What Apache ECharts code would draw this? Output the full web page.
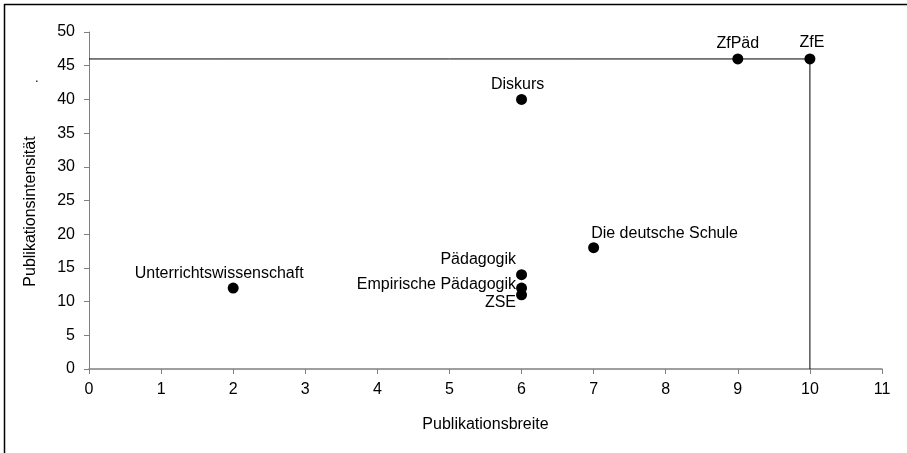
<!DOCTYPE html>
<html>
<head>
<meta charset="utf-8">
<script src="https://cdn.jsdelivr.net/npm/echarts@6/dist/echarts.min.js"></script>
<style>
  html, body { margin: 0; padding: 0; background: #fff; }
  #chart { width: 907px; height: 453px; }
</style>
</head>
<body>
<div id="chart"></div>
<script>
// Zeitschriften: Publikationsbreite / Publikationsintensität
var names = ['Unterrichtswissenschaft', 'Pädagogik', 'Empirische Pädagogik', 'ZSE',
             'Die deutsche Schule', 'Diskurs', 'ZfPäd', 'ZfE'];
var breite = [2, 6, 6, 6, 7, 6, 9, 10];
var intensitaet = [12, 14, 12, 11, 18, 40, 46, 46];
// Position der Beschriftung je Punkt
var labelPos = ['top', 'left', 'left', 'left', 'right', 'top', 'top', 'top'];
// Hilfslinie (Maximum)
var refLine = [[0, 46], [10, 46], [10, 0]];

var labelOffsets = {
    'Unterrichtswissenschaft': [-14, 3],
    'Pädagogik': [4, -15],
    'Empirische Pädagogik': [4, -4],
    'ZSE': [4, 8],
    'Die deutsche Schule': [-12, -14],
    'Diskurs': [-4, 3],
    'ZfPäd': [0, 2],
    'ZfE': [2, 1]
};

var points = names.map(function (n, i) {
    return {
        name: n,
        value: [breite[i], intensitaet[i]],
        label: { position: labelPos[i], offset: labelOffsets[n] }
    };
});

var font = 'Liberation Sans, Arial, sans-serif';
var myChart = echarts.init(document.getElementById('chart'));
var option = {
    animation: false,
    grid: { left: 89, right: 25, top: 32, bottom: 84 },
    xAxis: {
        type: 'value', min: 0, max: 11, interval: 1,
        name: 'Publikationsbreite', nameLocation: 'middle', nameGap: 48,
        nameTextStyle: { fontFamily: font, fontSize: 16, color: '#000' },
        axisLine: { lineStyle: { color: '#808080', width: 1.5 } },
        axisTick: { show: true, length: 5, lineStyle: { color: '#808080' } },
        axisLabel: { fontFamily: font, fontSize: 16, color: '#000', margin: 13 },
        splitLine: { show: false }
    },
    yAxis: {
        type: 'value', min: 0, max: 50, interval: 5,
        name: 'Publikationsintensität', nameLocation: 'middle', nameGap: 50,
        nameTextStyle: { fontFamily: font, fontSize: 16, color: '#000', padding: [0, 0, 0, -22] },
        axisLine: { show: true, lineStyle: { color: '#808080', width: 1 } },
        axisTick: { show: true, length: 5, lineStyle: { color: '#808080' } },
        axisLabel: { fontFamily: font, fontSize: 16, color: '#000', margin: 14 },
        splitLine: { show: false }
    },
    series: [
        {
            type: 'line',
            data: refLine,
            symbol: 'none',
            lineStyle: { color: '#000', width: 1 },
            z: 1
        },
        {
            type: 'scatter',
            data: points,
            symbolSize: 11,
            itemStyle: { color: '#000', opacity: 1 },
            label: {
                show: true,
                formatter: '{b}',
                fontFamily: font,
                fontSize: 16,
                color: '#000',
                distance: 4
            },
            z: 3
        }
    ],
    graphic: [
        { type: 'line', shape: { x1: 4, y1: 4.5, x2: 907, y2: 4.5 }, style: { stroke: '#000', lineWidth: 1.5 } },
        { type: 'line', shape: { x1: 4.5, y1: 4, x2: 4.5, y2: 453 }, style: { stroke: '#000', lineWidth: 1.5 } },
        { type: 'text', left: 35, top: 72, style: { text: '.', font: '13px ' + font, fill: '#000' } }
    ]
};
myChart.setOption(option);
</script>
</body>
</html>
